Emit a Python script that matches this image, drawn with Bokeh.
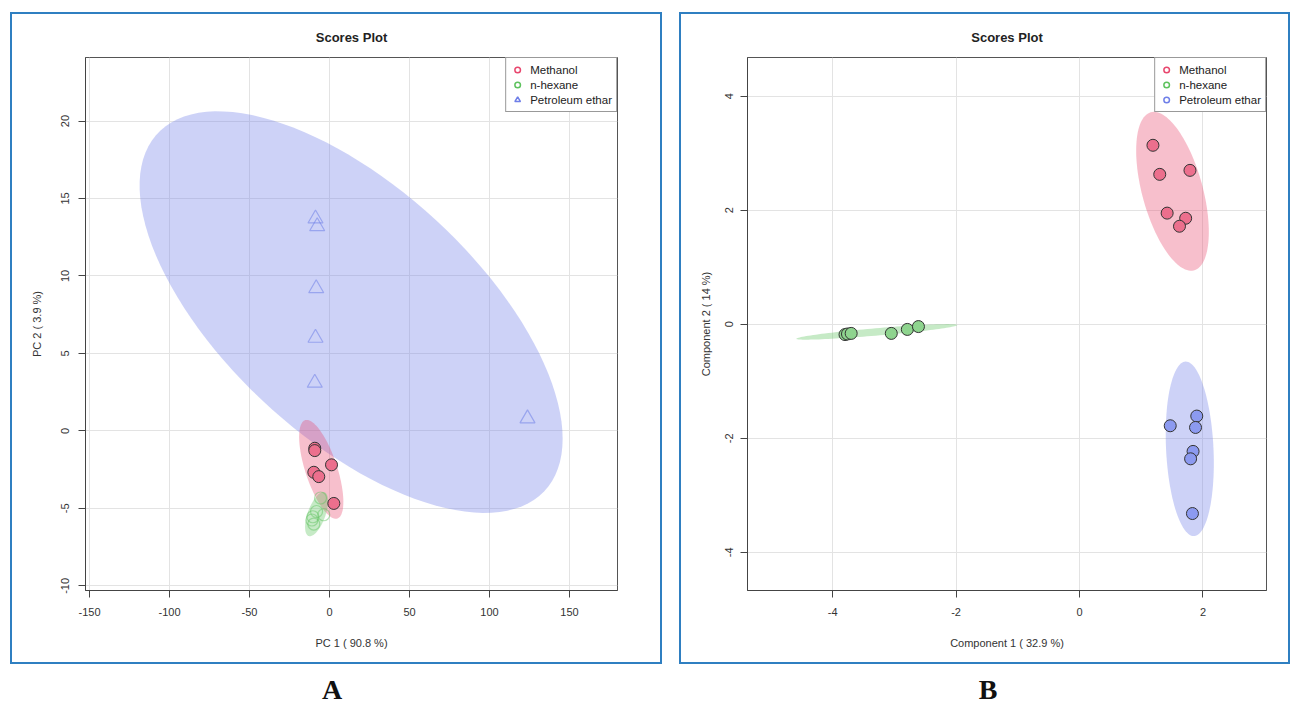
import numpy as np
from bokeh.plotting import figure
from bokeh.models import (ColumnDataSource, Legend, LegendItem, Div, FixedTicker, Range1d,
                          PrintfTickFormatter)
from bokeh.layouts import row, column
from bokeh.embed import file_html
from bokeh.resources import INLINE

groups = ["Methanol", "n-hexane", "Petroleum ethar"]

# ---- Panel A: PCA scores ----
a_meth_x = [-9.2, -9.2, 1.25, -9.8, -6.7, 2.7]
a_meth_y = [-1.12, -1.27, -2.19, -2.67, -2.95, -4.68]
a_hex_x = [-5.6, -10.4, -3.6, -9.8, -11.0, -8.1]
a_hex_y = [-4.33, -5.54, -5.41, -6.01, -5.75, -5.2]
a_pet_x = [-8.75, -7.7, -8.3, -8.75, -9.2, 123.75]
a_pet_y = [13.7, 13.2, 9.2, 6.0, 3.1, 0.8]
a_xticks = [-150, -100, -50, 0, 50, 100, 150]
a_yticks = [-10, -5, 0, 5, 10, 15, 20]

# ---- Panel B: PLS-DA scores ----
b_meth_x = [1.19, 1.30, 1.79, 1.42, 1.72, 1.62]
b_meth_y = [3.14, 2.63, 2.70, 1.95, 1.86, 1.72]
b_hex_x = [-3.80, -3.76, -3.70, -3.05, -2.79, -2.61]
b_hex_y = [-0.18, -0.17, -0.16, -0.16, -0.09, -0.04]
b_pet_x = [1.90, 1.47, 1.88, 1.84, 1.80, 1.83]
b_pet_y = [-1.61, -1.78, -1.81, -2.23, -2.36, -3.32]
b_xticks = [-4, -2, 0, 2]
b_yticks = [-4, -2, 0, 2, 4]

COL = {"Methanol": "#E8476E", "n-hexane": "#5DC25D", "Petroleum ethar": "#6F7FE8"}
FILL = {"Methanol": "#EC6F8D", "n-hexane": "#8ED48E", "Petroleum ethar": "#8C9AF0"}
FONT = "Liberation Sans"


def conf_ellipse(x, y, n=120):
    x = np.asarray(x, float)
    y = np.asarray(y, float)
    cov = np.cov(x, y)
    L = np.linalg.cholesky(cov)
    t = np.sqrt(5.991464547107979)  # 95% chi-square, 2 dof
    th = np.linspace(0, 2 * np.pi, n)
    pts = L @ np.vstack([np.cos(th), np.sin(th)]) * t
    return x.mean() + pts[0], y.mean() + pts[1]


def make_fig(w, xr, yr, xt, yt, xlabel, ylabel, bl, br, ystand, ylabstand):
    p = figure(width=w, height=652, x_range=Range1d(*xr), y_range=Range1d(*yr),
               output_backend="svg", toolbar_location=None,
               min_border_left=bl, min_border_right=br,
               min_border_top=43, min_border_bottom=76,
               background_fill_color="white", border_fill_color="white")
    p.styles = {"border": "2px solid #2F7FC1"}
    p.title.text = "Scores Plot"
    p.title.align = "center"
    p.title.text_font = FONT
    p.title.text_font_size = "13px"
    p.title.text_font_style = "bold"
    p.title.text_color = "#222222"
    p.title.standoff = 25
    p.xaxis.ticker = FixedTicker(ticks=xt)
    p.yaxis.ticker = FixedTicker(ticks=yt)
    p.xaxis.formatter = PrintfTickFormatter(format="%d")
    p.yaxis.formatter = PrintfTickFormatter(format="%d")
    p.xaxis.axis_label = xlabel
    p.yaxis.axis_label = ylabel
    for ax in (p.xaxis[0], p.yaxis[0]):
        ax.axis_label_text_font = FONT
        ax.axis_label_text_font_size = "11px"
        ax.axis_label_text_font_style = "normal"
        ax.axis_label_text_color = "#333333"
        ax.major_label_text_font = FONT
        ax.major_label_text_font_size = "11px"
        ax.major_label_text_color = "#333333"
        ax.minor_tick_line_color = None
        ax.major_tick_in = 0
        ax.major_tick_out = 7
        ax.major_tick_line_color = "#444444"
        ax.axis_line_color = "#444444"
    p.xaxis.major_label_standoff = 10
    p.xaxis.axis_label_standoff = 18
    p.yaxis.major_label_orientation = "vertical"
    p.yaxis.major_label_standoff = ystand
    p.yaxis.axis_label_standoff = ylabstand
    p.grid.grid_line_color = "#E3E3E3"
    p.outline_line_color = "#555555"
    p.outline_line_alpha = 1
    return p


def add_legend(p, markers):
    items = []
    for g, m in zip(groups, markers):
        src = ColumnDataSource(dict(x=[np.nan], y=[np.nan]))
        r = p.scatter(x="x", y="y", source=src, marker=m, size=8, fill_color=None,
                      line_color=COL[g], line_width=1.5)
        items.append(LegendItem(label=g, renderers=[r]))
    leg = Legend(items=items, location="top_right", margin=0, padding=4, spacing=0,
                 glyph_width=14, glyph_height=15, label_height=15, label_standoff=6,
                 label_text_font=FONT, label_text_font_size="11.5px",
                 label_text_color="#222222", border_line_color="#333333",
                 border_line_width=1, background_fill_alpha=1)
    p.add_layout(leg)


# ---------- Panel A ----------
pA = make_fig(652, (-152.5, 180), (-10.3, 24.1), a_xticks, a_yticks,
              "PC 1 ( 90.8 %)", "PC 2 ( 3.9 %)", 73, 47, 9, 16)
for g, xs, ys in [("Petroleum ethar", a_pet_x, a_pet_y),
                  ("Methanol", a_meth_x, a_meth_y),
                  ("n-hexane", a_hex_x, a_hex_y)]:
    ex, ey = conf_ellipse(xs, ys)
    pA.patch(ex, ey, fill_color=COL[g], fill_alpha=0.35, line_color=None)
pA.scatter(a_meth_x, a_meth_y, marker="circle", size=12, fill_color=FILL["Methanol"],
           line_color="#333333", line_width=1)
pA.scatter(a_hex_x, a_hex_y, marker="circle", size=12, fill_color=None,
           line_color=COL["n-hexane"], line_alpha=0.45, line_width=1.2)
pA.scatter(a_pet_x, a_pet_y, marker="triangle", size=15, fill_color=None,
           line_color=COL["Petroleum ethar"], line_alpha=0.55, line_width=1.2)
add_legend(pA, ["circle", "circle", "triangle"])

# ---------- Panel B ----------
pB = make_fig(611, (-5.38, 3.03), (-4.67, 4.68), b_xticks, b_yticks,
              "Component 1 ( 32.9 %)", "Component 2 ( 14 %)", 66, 26, 7, 11)
for g, xs, ys in [("Methanol", b_meth_x, b_meth_y),
                  ("n-hexane", b_hex_x, b_hex_y),
                  ("Petroleum ethar", b_pet_x, b_pet_y)]:
    ex, ey = conf_ellipse(xs, ys)
    pB.patch(ex, ey, fill_color=COL[g], fill_alpha=0.35, line_color=None)
for g, xs, ys in [("Methanol", b_meth_x, b_meth_y),
                  ("n-hexane", b_hex_x, b_hex_y),
                  ("Petroleum ethar", b_pet_x, b_pet_y)]:
    pB.scatter(xs, ys, marker="circle", size=12, fill_color=FILL[g],
               line_color="#333333", line_width=1)
add_legend(pB, ["circle", "circle", "circle"])

lab_style = {"font-family": "Liberation Serif", "font-size": "28px",
             "font-weight": "bold", "text-align": "center", "color": "#111111",
             "line-height": "32px"}
dA = Div(text="A", width=644, height=34, margin=0, styles=lab_style)
dB = Div(text="B", width=618, height=34, margin=0, styles=lab_style)

layout = row(column(pA, dA, spacing=10), column(pB, dB, spacing=10),
             spacing=17, margin=(12, 0, 0, 10))

open("out.html", "w").write(file_html(layout, INLINE))
